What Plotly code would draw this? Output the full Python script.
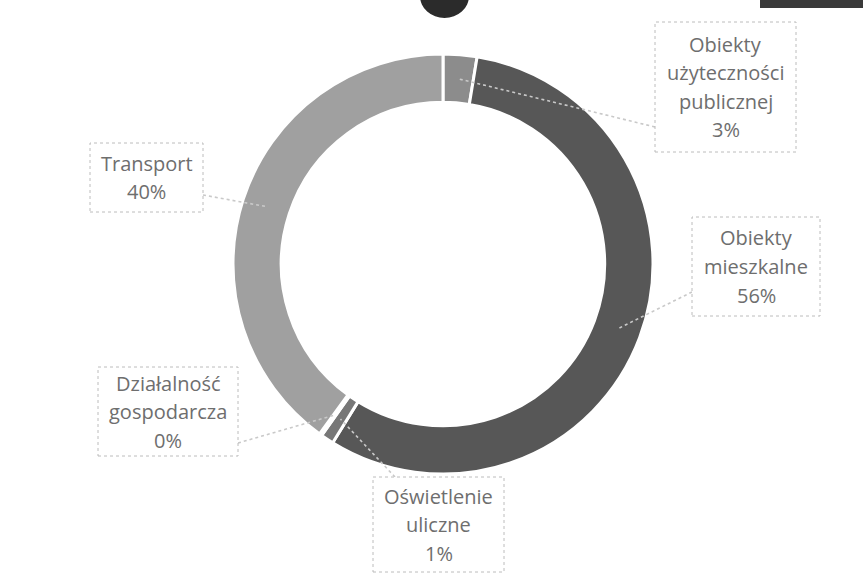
import math
import plotly.graph_objects as go

# Energy use shares by sector (percent)
categories = [
    "Obiekty użyteczności publicznej",
    "Obiekty mieszkalne",
    "Oświetlenie uliczne",
    "Działalność gospodarcza",
    "Transport",
]
shares = [2.6, 56.2, 1.0, 0.2, 40.0]
colors = ["#8c8c8c", "#575757", "#777777", "#676767", "#a0a0a0"]

W, H = 863, 574
CX, CY, R = 443, 264, 210      # donut centre and outer radius, pixels
HOLE = 0.77

# label boxes (x0, y0, x1, y1) in pixels and the point where each leader leaves its box
boxes = [
    (655, 22, 796, 152),
    (692, 217, 820, 316),
    (373, 477, 504, 572),
    (98, 367, 238, 456),
    (90, 143, 203, 212),
]
leader_starts = [(655, 127), (692, 292), (395, 477), (238, 443), (203, 195)]
LINE_STEP = 28.5
TEXT_COLOR = "#6e6e6e"
BORDER_COLOR = "#bcbcbc"


def px(x):
    return x / W


def py(y):
    return 1 - y / H


fig = go.Figure(
    go.Pie(
        labels=categories,
        values=shares,
        hole=HOLE,
        sort=False,
        direction="clockwise",
        rotation=0,
        textinfo="none",
        marker=dict(colors=colors, line=dict(color="white", width=3)),
        domain=dict(x=[px(CX - R), px(CX + R)], y=[py(CY + R), py(CY - R)]),
        hoverinfo="label+percent",
    )
)

total = sum(shares)
shapes = []
annotations = []
cum = 0.0
r_mid = R * (1 + HOLE) / 2
for name, v, box, start in zip(categories, shares, boxes, leader_starts):
    theta = math.radians((cum + v / 2) / total * 360)
    cum += v
    ex = CX + r_mid * math.sin(theta)
    ey = CY - r_mid * math.cos(theta)

    # leader line from the label box to the slice
    shapes.append(dict(
        type="line", xref="paper", yref="paper",
        x0=px(start[0]), y0=py(start[1]), x1=px(ex), y1=py(ey),
        line=dict(color="#c9c9c9", width=1.6, dash="dot"),
    ))

    # dotted label box
    x0, y0, x1, y1 = box
    shapes.append(dict(
        type="rect", xref="paper", yref="paper",
        x0=px(x0), y0=py(y1), x1=px(x1), y1=py(y0),
        line=dict(color=BORDER_COLOR, width=1, dash="dot"),
        fillcolor="white", layer="above",
    ))

    lines = name.split(" ") + [f"{round(v / total * 100)}%"]
    bx = (x0 + x1) / 2
    by = (y0 + y1) / 2
    n = len(lines)
    for i, t in enumerate(lines):
        yy = by + (i - (n - 1) / 2) * LINE_STEP
        annotations.append(dict(
            text=t, x=px(bx), y=py(yy), xref="paper", yref="paper",
            xanchor="center", yanchor="middle", showarrow=False,
            font=dict(family="Open Sans", size=20, color=TEXT_COLOR),
        ))

# dark marks along the top edge of the page
shapes.append(dict(type="circle", xref="paper", yref="paper",
                   x0=px(420), x1=px(469), y0=py(18), y1=py(-26),
                   fillcolor="#2b2b2b", line=dict(width=0)))
shapes.append(dict(type="rect", xref="paper", yref="paper",
                   x0=px(760), x1=px(863), y0=py(8), y1=py(0),
                   fillcolor="#3a3a3a", line=dict(width=0)))

fig.update_layout(
    width=W, height=H,
    margin=dict(l=0, r=0, t=0, b=0),
    paper_bgcolor="white",
    plot_bgcolor="white",
    showlegend=False,
    shapes=shapes,
    annotations=annotations,
)

fig.write_html("out.html")
